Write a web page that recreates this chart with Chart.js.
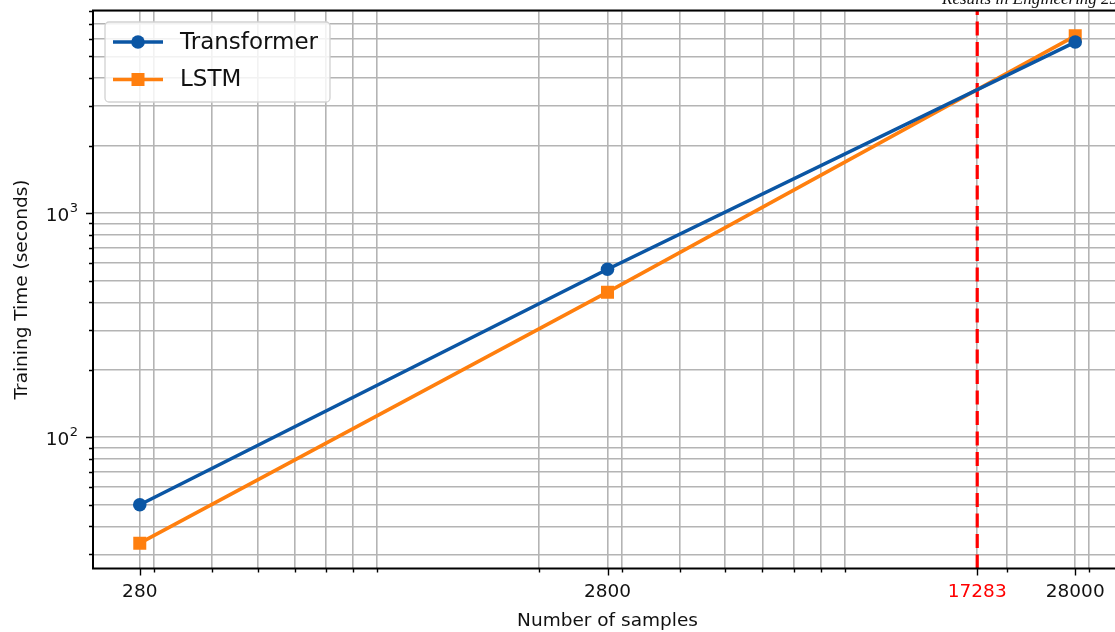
<!DOCTYPE html>
<html>
<head>
<meta charset="utf-8">
<script src="https://cdn.jsdelivr.net/npm/chart.js@4.4.1/dist/chart.umd.min.js"></script>
<style>
  html, body { margin: 0; padding: 0; background: #fff; overflow: hidden; width: 1115px; height: 632px; }
  #wrap { position: relative; width: 1115px; height: 632px; overflow: hidden; }
  #chart { position: absolute; left: 0; top: 0; }
  #journal { position: absolute; left: 942px; top: -11px; white-space: nowrap;
    font-family: "Liberation Serif", serif; font-style: italic; font-size: 17px; color: #111; }
</style>
</head>
<body>
<div id="wrap">
  <canvas id="chart" width="1125" height="632"></canvas>
  <div id="journal">Results in Engineering 25</div>
</div>
<script>
// Training data sizes and measured training times (seconds)
const samples = [280, 2800, 28000];
const transformerTimes = [50, 562, 5800];
const lstmTimes = [33.7, 444, 6180];

// Sample size where the two training-time curves cross
const crossover = 17283;

// Tick positions for both log axes
const xMajorTicks = [280, 2800, 17283, 28000];
const xMinorTicks = [300, 400, 500, 600, 700, 800, 900, 2000, 3000, 4000, 5000, 6000, 7000, 8000, 9000, 20000, 30000];
const yMajorTicks = [100, 1000];
const yMinorTicks = [30, 40, 50, 60, 70, 80, 90, 200, 300, 400, 500, 600, 700, 800, 900, 2000, 3000, 4000, 5000, 6000, 7000, 8000];
const yTickExponents = { 100: '2', 1000: '3' };

const seriesNames = ['Transformer', 'LSTM'];
const seriesColors = ['#0b56a4', '#ff7f0e'];

const FONT = 'DejaVu Sans';

// log-space padding of 5% on each side of the data range
function paddedRange(values) {
  const lo = Math.log10(Math.min(...values));
  const hi = Math.log10(Math.max(...values));
  const m = (hi - lo) * 0.05;
  return [Math.pow(10, lo - m), Math.pow(10, hi + m)];
}
const [xMin, xMax] = paddedRange(samples);
const [yMin, yMax] = paddedRange(transformerTimes.concat(lstmTimes));

function buildTicks(majors, minors) {
  return majors.map(v => ({ value: v, major: true }))
    .concat(minors.map(v => ({ value: v, major: false })))
    .sort((a, b) => a.value - b.value);
}

function noMargins(s) {
  s.paddingTop = 0; s.paddingBottom = 0; s.paddingLeft = 0; s.paddingRight = 0;
}

// Tick marks (long for major, short for minor), power-of-ten labels and the axes frame
const frameAndTicks = {
  id: 'frameAndTicks',
  afterDraw(chart) {
    const ctx = chart.ctx;
    const a = chart.chartArea;
    const xs = chart.scales.x, ys = chart.scales.y;
    ctx.save();
    ctx.strokeStyle = '#000';
    ctx.lineWidth = 1.4;
    ctx.beginPath();
    xs.ticks.forEach(t => {
      const px = Math.round(xs.getPixelForValue(t.value)) + 0.5;
      ctx.moveTo(px, a.bottom);
      ctx.lineTo(px, a.bottom + (t.major ? 7 : 4));
    });
    ys.ticks.forEach(t => {
      const py = Math.round(ys.getPixelForValue(t.value)) + 0.5;
      ctx.moveTo(a.left, py);
      ctx.lineTo(a.left - (t.major ? 7 : 4), py);
    });
    ctx.stroke();
    ctx.lineWidth = 2;
    ctx.strokeRect(a.left, a.top, a.right - a.left, a.bottom - a.top);

    // 10^n labels with a raised exponent
    ctx.fillStyle = '#111';
    ctx.textBaseline = 'alphabetic';
    ys.ticks.forEach(t => {
      const exp = yTickExponents[t.value];
      if (!exp) return;
      const py = ys.getPixelForValue(t.value);
      ctx.font = '13px "' + FONT + '"';
      const ew = ctx.measureText(exp).width;
      const right = a.left - 15;
      ctx.textAlign = 'right';
      ctx.fillText(exp, right, py - 1);
      ctx.font = '18.5px "' + FONT + '"';
      ctx.fillText('10', right - ew - 0.5, py + 8);
    });
    ctx.restore();
  }
};

// Dashed vertical marker at the crossover sample size
const crossoverLine = {
  id: 'crossoverLine',
  beforeDatasetsDraw(chart) {
    const ctx = chart.ctx;
    const a = chart.chartArea;
    const px = chart.scales.x.getPixelForValue(crossover);
    ctx.save();
    ctx.strokeStyle = '#ff0000';
    ctx.lineWidth = 3.2;
    ctx.setLineDash([14, 6.5]);
    ctx.beginPath();
    ctx.moveTo(px, a.bottom);
    ctx.lineTo(px, a.top);
    ctx.stroke();
    ctx.restore();
  }
};

// Boxed legend with line + marker samples
const lineLegend = {
  id: 'lineLegend',
  afterDatasetsDraw(chart) {
    const ctx = chart.ctx;
    const box = { x: 105, y: 22, w: 225, h: 80 };
    ctx.save();
    ctx.beginPath();
    ctx.roundRect(box.x, box.y, box.w, box.h, 4);
    ctx.fillStyle = 'rgba(255,255,255,0.82)';
    ctx.fill();
    ctx.strokeStyle = '#d2d2d2';
    ctx.lineWidth = 1.3;
    ctx.stroke();
    chart.data.datasets.forEach((ds, i) => {
      const cy = 42 + i * 37.5;
      ctx.strokeStyle = ds.borderColor;
      ctx.lineWidth = 3.6;
      ctx.beginPath();
      ctx.moveTo(113, cy);
      ctx.lineTo(163, cy);
      ctx.stroke();
      ctx.fillStyle = ds.borderColor;
      if (ds.pointStyle === 'rect') {
        ctx.fillRect(138 - 6.5, cy - 6.5, 13, 13);
      } else {
        ctx.beginPath();
        ctx.arc(138, cy, 6.8, 0, Math.PI * 2);
        ctx.fill();
      }
      ctx.fillStyle = '#111';
      ctx.font = '23px "' + FONT + '"';
      ctx.textBaseline = 'middle';
      ctx.fillText(ds.label, 180, cy + 1);
    });
    ctx.restore();
  }
};

const datasets = [transformerTimes, lstmTimes].map((vals, i) => ({
  label: seriesNames[i],
  data: samples.map((s, j) => ({ x: s, y: vals[j] })),
  borderColor: seriesColors[i],
  backgroundColor: seriesColors[i],
  borderWidth: 3.6,
  pointStyle: i === 0 ? 'circle' : 'rect',
  pointRadius: i === 0 ? 6.8 : 9.2,
  pointBorderWidth: 0,
  tension: 0,
  fill: false
}));

new Chart(document.getElementById('chart'), {
  type: 'line',
  data: { datasets },
  options: {
    responsive: false,
    animation: false,
    devicePixelRatio: 1,
    layout: { autoPadding: false, padding: { top: 10.5, right: 3, left: 0, bottom: 0 } },
    plugins: { legend: { display: false }, tooltip: { enabled: false } },
    scales: {
      x: {
        type: 'logarithmic',
        position: 'bottom',
        min: xMin,
        max: xMax,
        afterBuildTicks: s => { s.ticks = buildTicks(xMajorTicks, xMinorTicks); },
        afterFit: s => { s.height = 63.5; noMargins(s); },
        border: { display: false },
        grid: { color: '#b4b4b4', lineWidth: 1.6, drawTicks: false },
        ticks: {
          autoSkip: false,
          maxRotation: 0,
          padding: 13,
          font: { family: FONT, size: 18.5 },
          color: ctx => (ctx.tick && ctx.tick.value === crossover ? '#ff0000' : '#111'),
          callback: v => (xMajorTicks.includes(v) ? String(v) : '')
        },
        title: {
          display: true,
          text: 'Number of samples',
          font: { family: FONT, size: 18.5 },
          color: '#111',
          padding: { top: 0, bottom: 0 }
        }
      },
      y: {
        type: 'logarithmic',
        position: 'left',
        min: yMin,
        max: yMax,
        afterBuildTicks: s => { s.ticks = buildTicks(yMajorTicks, yMinorTicks); },
        afterFit: s => { s.width = 93; noMargins(s); },
        border: { display: false },
        grid: { color: '#b4b4b4', lineWidth: 1.6, drawTicks: false },
        ticks: {
          autoSkip: false,
          padding: 15,
          font: { family: FONT, size: 18.5 },
          callback: () => ''
        },
        title: {
          display: true,
          text: 'Training Time (seconds)',
          font: { family: FONT, size: 18.5 },
          color: '#111',
          padding: { top: 11, bottom: 0 }
        }
      }
    }
  },
  plugins: [crossoverLine, lineLegend, frameAndTicks]
});
</script>
</body>
</html>
